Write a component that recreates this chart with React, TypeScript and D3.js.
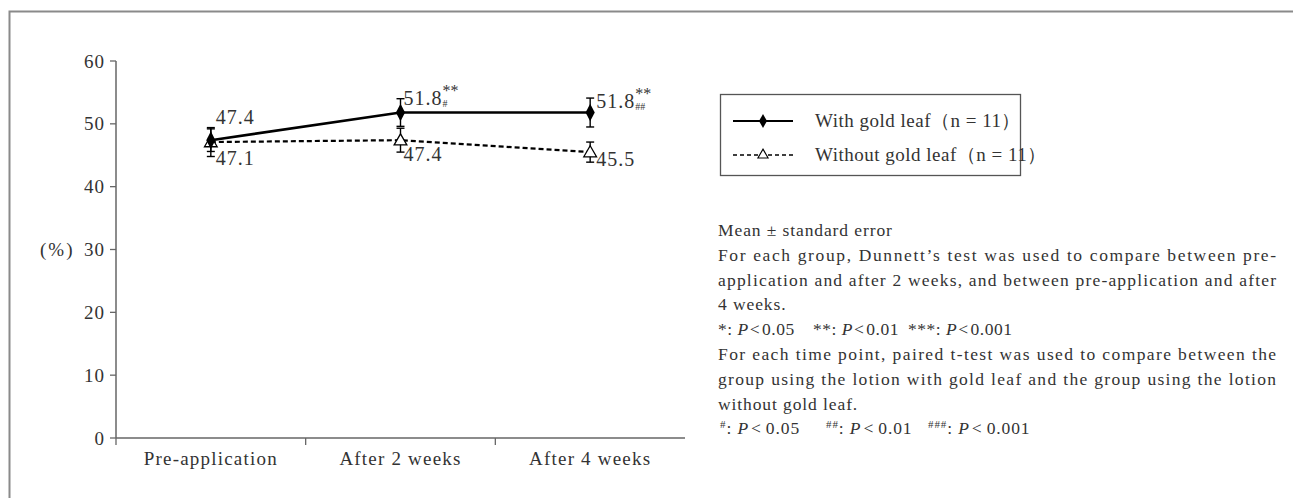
import React from 'react'
import * as d3 from 'd3'

// values
const categories = ['Pre-application', 'After 2 weeks', 'After 4 weeks']
const withGold = [47.4, 51.8, 51.8]
const withGoldSE = [1.8, 2.2, 2.3]
const withoutGold = [47.1, 47.4, 45.5]
const withoutGoldSE = [2.3, 1.9, 1.6]
const withSup = ['', '**', '**']
const withSub = ['', '#', '##']
const yTicks = [0, 10, 20, 30, 40, 50, 60]
const pLevels = ['0.05', '0.01', '0.001']

// label offsets from the point (layout only)
const withLabelOff = [[5, -16], [3, -8], [6, -5]]
const withoutLabelOff = [[5, 23], [3, 21], [6, 14]]

const FONT = '"Liberation Serif", "Times New Roman", serif'
const INK = '#333'

const notes = [
  { t: 'Mean  ±  standard error' },
  { t: 'For each group, Dunnett’s test was used to compare between pre-', full: true },
  { t: 'application and after 2 weeks, and between pre-application and after', full: true },
  { t: '4 weeks.' },
  { p: '*' },
  { t: 'For each time point, paired t-test was used to compare between the', full: true },
  { t: 'group using the lotion with gold leaf and the group using the lotion', full: true },
  { t: 'without gold leaf.' },
  { p: '#' },
]

function PLine({ sym, y }: { sym: string; y: number }) {
  const sup = sym === '#'
  const starts = sup ? [720, 826, 928] : [718, 813, 908]
  return (
    <text y={y} fontFamily={FONT} fontSize={17.5} fill={INK} letterSpacing={sup ? 0.9 : 0.5}>
      {pLevels.map((v, i) => (
        <React.Fragment key={i}>
          <tspan x={starts[i]} y={sup ? y - 6 : y} fontSize={sup ? 11 : 17.5}>{sym.repeat(i + 1)}</tspan>
          <tspan y={y}>: </tspan>
          <tspan fontStyle="italic">P</tspan>
          <tspan dx={sup ? 2 : 1}>{'<'}</tspan>
          <tspan dx={sup ? 4 : 2}>{v}</tspan>
        </React.Fragment>
      ))}
    </text>
  )
}

export default function App() {
  const x = d3.scaleBand().domain(categories).range([116, 685])
  const y = d3.scaleLinear().domain([0, 60]).range([438, 61])
  const cx = (c: string) => (x(c) as number) + x.bandwidth() / 2

  const line = d3.line<number>().x((d, i) => cx(categories[i])).y(d => y(d))
  const diamond = d3.symbol().type(d3.symbolDiamond).size(90)()
  const tri = d3.symbol().type(d3.symbolTriangle).size(70)()
  const diamondS = d3.symbol().type(d3.symbolDiamond).size(55)()
  const triS = d3.symbol().type(d3.symbolTriangle).size(45)()

  const errBar = (vals: number[], se: number[], key: string) =>
    vals.map((v, i) => {
      const px = cx(categories[i])
      const y1 = y(v + se[i]), y2 = y(v - se[i])
      return (
        <g key={key + i} stroke="#000" strokeWidth={1.4}>
          <line x1={px} x2={px} y1={y1} y2={y2} />
          <line x1={px - 4} x2={px + 4} y1={y1} y2={y1} />
          <line x1={px - 4} x2={px + 4} y1={y2} y2={y2} />
        </g>
      )
    })

  return (
    <svg width={1293} height={498} style={{ position: 'absolute', left: 0, top: 0, background: '#fff' }}>
      {/* outer frame */}
      <path d="M9.5,498V11.5H1293" fill="none" stroke="#8a8a8a" strokeWidth={2} />

      {/* y axis */}
      <line x1={116} x2={116} y1={y(60)} y2={y(0)} stroke="#666" strokeWidth={1.5} />
      {yTicks.map(t => (
        <g key={t}>
          <line x1={110} x2={116} y1={y(t)} y2={y(t)} stroke="#666" strokeWidth={1.3} />
          <text x={105} y={y(t) + 6.5} textAnchor="end" fontFamily={FONT} fontSize={19} fill={INK} letterSpacing={1}>{t}</text>
        </g>
      ))}
      <text x={40} y={y(30) + 6.5} fontFamily={FONT} fontSize={19} fill={INK} letterSpacing={2}>(%)</text>

      {/* x axis */}
      <line x1={116} x2={685} y1={y(0)} y2={y(0)} stroke="#666" strokeWidth={1.5} />
      {categories.map(c => (
        <g key={c}>
          <line x1={x(c)} x2={x(c)} y1={y(0)} y2={y(0) + 7} stroke="#666" strokeWidth={1.3} />
          <text x={cx(c)} y={y(0) + 27} textAnchor="middle" fontFamily={FONT} fontSize={19} fill={INK} letterSpacing={1.2}>{c}</text>
        </g>
      ))}

      {/* error bars */}
      {errBar(withGold, withGoldSE, 'w')}
      {errBar(withoutGold, withoutGoldSE, 'wo')}

      {/* lines */}
      <path d={line(withoutGold) || ''} fill="none" stroke="#000" strokeWidth={2.2} strokeDasharray="5,3" />
      <path d={line(withGold) || ''} fill="none" stroke="#000" strokeWidth={2.6} />

      {/* markers */}
      {withoutGold.map((v, i) => (
        <path key={'t' + i} d={tri || ''} transform={`translate(${cx(categories[i])},${y(v) + 1})`} fill="#fff" stroke="#000" strokeWidth={1.3} />
      ))}
      {withGold.map((v, i) => (
        <path key={'d' + i} d={diamond || ''} transform={`translate(${cx(categories[i])},${y(v)}) scale(0.9,1)`} fill="#000" />
      ))}

      {/* value labels */}
      {withGold.map((v, i) => {
        const px = cx(categories[i]) + withLabelOff[i][0]
        const py = y(v) + withLabelOff[i][1]
        return (
          <text key={'lw' + i} x={px} y={py} fontFamily={FONT} fill={INK} fontSize={20}>
            <tspan letterSpacing={1}>{v.toFixed(1)}</tspan>
            {withSup[i] && <tspan dy={-9} fontSize={16}>{withSup[i]}</tspan>}
            {withSub[i] && <tspan dx={-16} dy={11} fontSize={10}>{withSub[i]}</tspan>}
          </text>
        )
      })}
      {withoutGold.map((v, i) => (
        <text key={'lo' + i} x={cx(categories[i]) + withoutLabelOff[i][0]} y={y(v) + withoutLabelOff[i][1]}
          fontFamily={FONT} fontSize={20} letterSpacing={1} fill={INK}>{v.toFixed(1)}</text>
      ))}

      {/* legend */}
      <rect x={720.5} y={94.5} width={300} height={81} fill="none" stroke="#555" strokeWidth={1.3} />
      <line x1={733} x2={793} y1={121} y2={121} stroke="#000" strokeWidth={2.2} />
      <path d={diamondS || ''} transform="translate(763,121)" fill="#000" />
      <line x1={733} x2={793} y1={155} y2={155} stroke="#000" strokeWidth={1.5} strokeDasharray="4,3" />
      <path d={triS || ''} transform="translate(763,155)" fill="#fff" stroke="#000" strokeWidth={1.1} />
      <text x={815} y={127} fontFamily={FONT} fontSize={19} fill={INK} letterSpacing={0.5}>With gold leaf（n = 11）</text>
      <text x={815} y={161} fontFamily={FONT} fontSize={19} fill={INK} letterSpacing={0.5}>Without gold leaf（n = 11）</text>

      {/* notes */}
      {notes.map((n, i) => {
        const ly = 236 + i * 24.8
        if (n.p) return <PLine key={i} sym={n.p} y={ly} />
        return (
          <text key={i} x={718} y={ly} fontFamily={FONT} fontSize={17.5} fill={INK} letterSpacing={0.9}
            {...(n.full ? { textLength: 559, lengthAdjust: 'spacing' } : {})}>{n.t}</text>
        )
      })}
    </svg>
  )
}
